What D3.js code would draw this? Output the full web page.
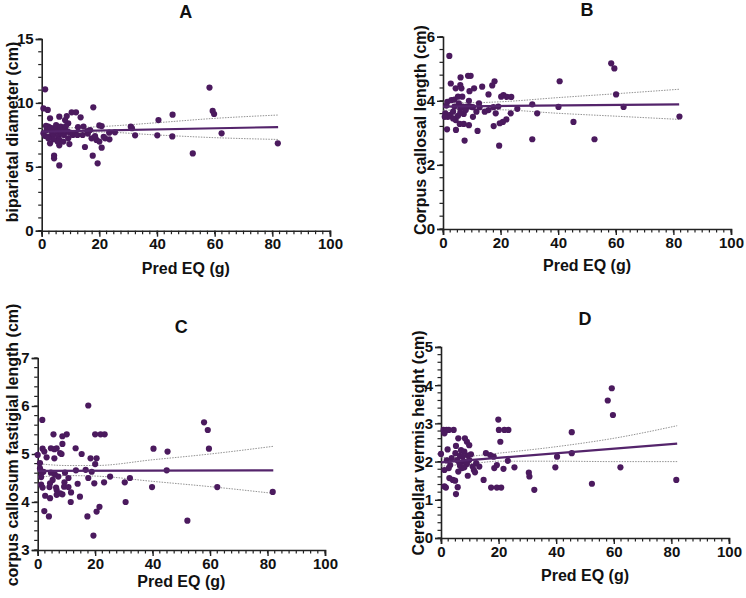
<!DOCTYPE html>
<html>
<head>
<meta charset="utf-8">
<script src="https://cdn.jsdelivr.net/npm/d3@7"></script>
<style>
  body { margin: 0; background: #fff; }
  text { font-family: "Liberation Sans", Arial, sans-serif; font-weight: bold; fill: #111; }
</style>
</head>
<body>
<svg width="746" height="598"></svg>
<script>
// Pred EQ (g) vs. measurement, one [x, y] list per panel
const bpdPoints = [
  [1.2,11.06],[0.6,9.57],[2.1,9.45],[58.2,11.2],[17.9,9.65],[10.4,9.26],[11.9,9.26],[13.5,8.87],
  [6.1,8.92],[2.9,8.8],[8.7,8.97],[9.2,8.4],[8.1,8.66],[59.3,9.37],[59.8,9.13],[45.4,9.08],
  [40.5,8.66],[30.9,8.14],[31.3,8.02],[20,8.24],[20.8,8.19],[62.4,7.62],[81.9,6.84],[52.4,6.05],
  [40.1,7.46],[45.3,7.38],[32.4,7.46],[25.4,7.7],[23.4,7.67],[23.5,7.15],[22,7.23],[20.8,6.5],
  [20,6.97],[19,7.1],[17.3,7.23],[16.8,7.88],[15,6.55],[17.7,5.87],[19.4,5.27],[6.1,5.11],
  [4.3,5.87],[4.3,5.66],[9.6,6.78],[6.1,6.68],[2.9,6.84],[14.2,7.49],[15.8,7.8],[0.6,7.62],
  [1.2,7.41],[1.7,7.88],[2.3,8.14],[2.7,7.36],[3.5,7.75],[4.0,7.49],[4.6,8.01],[5,8.27],
  [5.4,7.75],[5.8,7.36],[6.1,7.1],[6.6,8.14],[6.9,7.62],[7.3,7.88],[7.7,7.49],[8.1,8.01],
  [8.4,8.19],[9,7.75],[9.8,7.67],[10.8,7.49],[11.6,7.62],[12.4,7.49],[9.2,7.23],[7.5,6.97],
  [5.5,6.97],[4,7.15],[2.3,7.23],[1.5,8.2],[3.2,8.05],[6.4,7.85],[12.6,8.1],[14.5,8.15],
  [18.5,7.4],[21.5,7.35],[16,7.6]
];
const ccLengthPoints = [
  [2.2,5.40],[58.4,5.17],[59.5,5.01],[40.5,4.61],[17.9,4.61],[17.1,4.48],[8.7,4.78],[9.6,4.78],
  [6.1,4.73],[2.7,4.54],[6,4.49],[6.4,4.39],[4.4,4.39],[10.8,4.39],[13.6,4.44],[9.2,4.3],
  [15.8,4.2],[21,4.18],[20.2,4.13],[22.2,4.12],[23.7,4.12],[60.1,4.2],[9,4.0],[1.5,3.97],
  [2.9,4.02],[4,4.04],[5.2,4.13],[6.7,4.13],[5.5,3.92],[31,3.89],[62.7,3.81],[40.1,3.81],
  [25.8,3.75],[82.1,3.51],[32.7,3.61],[23.5,3.61],[18.3,3.61],[22,3.42],[20.8,3.34],[19.7,3.30],
  [17.6,3.21],[45.3,3.34],[15.8,3.71],[14.5,3.66],[11.6,3.66],[12.7,3.80],[10.4,3.80],[8.3,3.82],
  [7.2,3.59],[5.2,3.53],[4.4,3.40],[5.8,3.28],[7.2,3.28],[9,3.24],[4.5,3.09],[1.4,3.11],
  [12,3.06],[7.5,2.76],[31,2.80],[52.6,2.80],[19.5,2.60],[0.8,3.61],[1.7,3.50],[2.5,3.56],
  [3.5,3.66],[0.6,3.5],[6,3.76],[6.9,3.82],[4,3.82],[7.9,3.71],[9.5,3.82],[6,3.63],
  [3.5,3.45],[12.5,3.92],[10.4,3.5],[19.2,3.82],[17.5,3.8],[1.2,3.85]
];
const ccFastigialPoints = [
  [17.6,6.01],[1.6,5.71],[57.9,5.66],[59.2,5.50],[5.5,5.41],[10.1,5.41],[20,5.41],[21.9,5.41],
  [23.3,5.41],[8.6,5.37],[8.6,5.21],[13.2,5.12],[1.7,5.11],[2.3,5.05],[4.6,5.12],[5.8,5.10],
  [6.6,5.12],[40.3,5.11],[59.6,5.11],[45.2,5.05],[15.3,5.0],[7.8,5.02],[8.3,5.0],[0,4.98],
  [3.1,4.93],[5.8,4.91],[18.4,4.91],[20.5,4.91],[20,4.79],[0.8,4.81],[16.7,4.67],[13.3,4.66],
  [18.8,4.63],[44.9,4.66],[25.2,4.53],[32.1,4.5],[17.6,4.5],[0.8,4.7],[1.4,4.61],[2,4.63],
  [4.6,4.61],[6,4.57],[7.2,4.53],[9.5,4.61],[10.7,4.5],[9.3,4.41],[5.2,4.46],[4.3,4.39],
  [1.2,4.36],[1.7,4.30],[4.1,4.31],[6.4,4.30],[9.2,4.32],[10.7,4.31],[6.6,4.25],[7.8,4.18],
  [6.6,4.15],[8.6,4.16],[11.6,4.2],[2.6,4.13],[4.3,4.08],[11.5,4.0],[14.7,4.11],[13.9,4.38],
  [19.7,4.39],[23.1,4.41],[30.3,4.41],[39.8,4.31],[62.5,4.31],[81.8,4.21],[30.6,4.0],[2.3,3.81],
  [3.9,3.70],[17.3,3.70],[20.5,3.80],[21.5,3.90],[19.4,3.30],[52.1,3.61],[1.2,4.52]
];
const vermisPoints = [
  [57.9,3.6],[59.3,3.92],[59.7,3.22],[19.9,3.10],[20.1,2.83],[22,2.83],[23.4,2.83],[20.6,2.52],
  [45.4,2.77],[45.4,2.22],[40.3,2.13],[39.7,1.85],[62.3,1.85],[81.7,1.52],[52.4,1.42],[32.4,1.26],
  [30.5,1.71],[30.7,1.61],[25.5,1.85],[23.2,2.02],[21.7,1.81],[17.4,1.32],[19.4,1.32],[20.9,1.32],
  [14.8,1.52],[13.3,1.87],[15.6,2.22],[17.1,2.17],[18.3,2.13],[19.4,1.91],[18.5,1.83],[5.2,1.15],
  [5.8,1.33],[1.2,1.35],[1.7,1.32],[2.9,1.57],[4.1,1.52],[4.9,1.50],[0.9,2.83],[1.9,2.83],
  [2.7,2.83],[4.4,2.83],[1.2,2.74],[6,2.61],[8.3,2.61],[9.0,2.52],[9.8,2.43],[5.2,2.41],
  [2.3,2.32],[0,2.2],[6.95,2.30],[8.1,2.26],[5.0,2.22],[6.6,2.15],[9.3,2.16],[10.4,2.19],
  [2,2.03],[3.7,2.09],[5.6,2.04],[7.5,2.13],[9.8,2.04],[12.2,1.96],[7.9,2.0],[6.4,1.96],
  [3.2,1.91],[1.2,1.78],[2.7,1.83],[6.6,1.89],[7.3,1.83],[9,1.94],[11,1.87],[11.4,1.78],
  [11.8,1.72],[9.3,1.63],[6.0,1.74],[8.1,1.85]
];

// fitted line ends and 95% band, read at these x positions
const bandX = [0, 10, 20, 40, 60, 82];
const fitA = [[0, 7.75], [82, 8.11]];
const upperA = [8.02, 8.05, 8.14, 8.45, 8.79, 9.05];
const lowerA = [7.57, 7.62, 7.72, 7.49, 7.28, 7.14];
const fitB = [[0, 3.82], [82, 3.89]];
const upperB = [3.96, 3.94, 3.97, 4.10, 4.22, 4.36];
const lowerB = [3.70, 3.73, 3.72, 3.61, 3.52, 3.42];
const fitC = [[0, 4.65], [82, 4.66]];
const upperC = [4.80, 4.76, 4.76, 4.88, 5.00, 5.16];
const lowerC = [4.52, 4.55, 4.54, 4.43, 4.32, 4.18];
const fitD = [[0, 1.98], [82, 2.47]];
const upperD = [2.10, 2.14, 2.22, 2.39, 2.61, 2.94];
const lowerD = [1.88, 1.94, 2.01, 2.01, 2.00, 2.00];

const xTicks = [0, 20, 40, 60, 80, 100];

const svg = d3.select('svg');
const purple = '#4b1a5e';

const panels = [
  { title: 'A', label: 'biparietal diameter (cm)', pts: bpdPoints, fit: fitA, up: upperA, lo: lowerA,
    box: [41.7, 330, 39, 230.7], yDom: [0, 15], yMajor: 5, yMinor: 1,
    titleY: 18, xLabY: 274, yLabX: 18, yLabY: 132 },
  { title: 'B', label: 'Corpus callosal length (cm)', pts: ccLengthPoints, fit: fitB, up: upperB, lo: lowerB,
    box: [443, 731, 36.7, 229], yDom: [0, 6], yMajor: 2, yMinor: 0.4,
    titleY: 16, xLabY: 271, yLabX: 426, yLabY: 130 },
  { title: 'C', label: 'corpus callosum fastigial length (cm)', pts: ccFastigialPoints, fit: fitC, up: upperC, lo: lowerC,
    box: [37.7, 325, 358, 550], yDom: [3, 7], yMajor: 1, yMinor: 0.2,
    titleY: 333, xLabY: 587, yLabX: 18, yLabY: 445 },
  { title: 'D', label: 'Cerebellar vermis height (cm)', pts: vermisPoints, fit: fitD, up: upperD, lo: lowerD,
    box: [441, 729, 347, 538], yDom: [0, 5], yMajor: 1, yMinor: 0.2,
    titleY: 325, xLabY: 581, yLabX: 424, yLabY: 443 }
];

const drawPanel = p => {
  const [left, right, top, bottom] = p.box;
  const x = d3.scaleLinear().domain([0, 100]).range([left, right]);
  const y = d3.scaleLinear().domain(p.yDom).range([bottom, top]);
  const g = svg.append('g');

  // minor ticks
  const xMinor = d3.range(0, 100.01, 2.5);
  g.selectAll('.xminor').data(xMinor).enter().append('line')
    .attr('x1', d => x(d)).attr('x2', d => x(d))
    .attr('y1', bottom).attr('y2', bottom + 3.5)
    .attr('stroke', '#222').attr('stroke-width', 1.2);
  const yMinor = d3.range(p.yDom[0], p.yDom[1] + 1e-6, p.yMinor);
  g.selectAll('.yminor').data(yMinor).enter().append('line')
    .attr('x1', left - 3.5).attr('x2', left)
    .attr('y1', d => y(d)).attr('y2', d => y(d))
    .attr('stroke', '#222').attr('stroke-width', 1.2);

  const xAxis = d3.axisBottom(x).tickValues(xTicks).tickSize(6).tickPadding(2);
  const yTicks = d3.range(p.yDom[0], p.yDom[1] + 1e-6, p.yMajor);
  const yAxis = d3.axisLeft(y).tickValues(yTicks).tickFormat(d3.format('d'))
    .tickSize(6).tickPadding(2);

  const xg = g.append('g').attr('transform', `translate(0, ${bottom})`).call(xAxis);
  const yg = g.append('g').attr('transform', `translate(${left}, 0)`).call(yAxis);
  [xg, yg].forEach(a => {
    a.select('.domain').attr('stroke', '#222').attr('stroke-width', 1.6);
    a.selectAll('.tick line').attr('stroke', '#222').attr('stroke-width', 1.4);
    a.selectAll('.tick text').style('font-size', '15px').style('font-weight', 'bold')
      .style('font-family', '"Liberation Sans", Arial, sans-serif').attr('fill', '#111');
  });

  // 95% band
  const bandLine = d3.line().x(d => x(d[0])).y(d => y(d[1])).curve(d3.curveMonotoneX);
  [p.up, p.lo].forEach(vals => {
    g.append('path')
      .datum(bandX.map((bx, i) => [bx, vals[i]]))
      .attr('d', bandLine)
      .attr('fill', 'none').attr('stroke', '#777')
      .attr('stroke-width', 0.8).attr('stroke-dasharray', '1.5,1.2');
  });

  g.selectAll('circle').data(p.pts).enter().append('circle')
    .attr('cx', d => x(d[0])).attr('cy', d => y(d[1]))
    .attr('r', 3.1).attr('fill', purple);

  g.append('path')
    .datum(p.fit)
    .attr('d', d3.line().x(d => x(d[0])).y(d => y(d[1])))
    .attr('fill', 'none').attr('stroke', '#54246b').attr('stroke-width', 2.2);

  g.append('text')
    .attr('x', (left + right) / 2).attr('y', p.titleY)
    .attr('text-anchor', 'middle').style('font-size', '18px')
    .text(p.title);
  g.append('text')
    .attr('x', (left + right) / 2).attr('y', p.xLabY)
    .attr('text-anchor', 'middle').style('font-size', '16px')
    .text('Pred EQ (g)');
  g.append('text')
    .attr('transform', `translate(${p.yLabX}, ${p.yLabY}) rotate(-90)`)
    .attr('text-anchor', 'middle').style('font-size', '16px')
    .text(p.label);
};

panels.forEach(drawPanel);
</script>
</body>
</html>
